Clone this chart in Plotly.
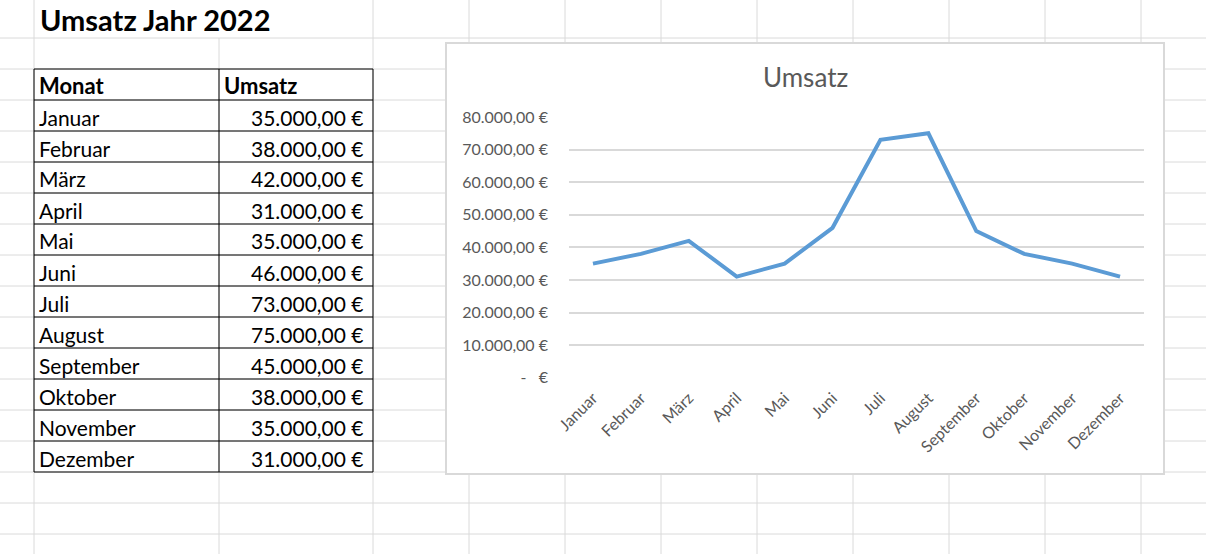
import plotly.graph_objects as go

# ---- data ----
monate = ["Januar", "Februar", "März", "April", "Mai", "Juni", "Juli",
          "August", "September", "Oktober", "November", "Dezember"]
umsatz = [35000, 38000, 42000, 31000, 35000, 46000, 73000,
          75000, 45000, 38000, 35000, 31000]
y_tickvals = [0, 10000, 20000, 30000, 40000, 50000, 60000, 70000, 80000]
y_ticktext = ["-   €", "10.000,00 €", "20.000,00 €", "30.000,00 €", "40.000,00 €",
              "50.000,00 €", "60.000,00 €", "70.000,00 €", "80.000,00 €"]
sheet_title = "Umsatz Jahr 2022"
col_headers = ["Monat", "Umsatz"]
chart_title = "Umsatz"

W, H = 1206, 554
FONT = "Lato"


def px(x):
    return x / W


def py(y):
    return 1 - y / H


def eur(v):
    s = f"{v:,.2f}"
    s = s.replace(",", "X").replace(".", ",").replace("X", ".")
    return s + " €"


shapes = []
grid_col = "#dadada"
# spreadsheet grid: vertical lines
for x in [34, 373, 469, 565, 661, 757, 853, 949, 1045, 1141]:
    shapes.append(dict(type="line", xref="paper", yref="paper", x0=px(x), x1=px(x),
                       y0=py(0), y1=py(H), line=dict(color=grid_col, width=1), layer="below"))
shapes.append(dict(type="line", xref="paper", yref="paper", x0=px(219), x1=px(219),
                   y0=py(38), y1=py(H), line=dict(color=grid_col, width=1), layer="below"))
# horizontal lines
row_y = [38 + 31 * i for i in range(17)]
for y in row_y:
    shapes.append(dict(type="line", xref="paper", yref="paper", x0=0, x1=1,
                       y0=py(y), y1=py(y), line=dict(color=grid_col, width=1), layer="below"))

# table borders
t_top, row_h = 69, 31
n_rows = len(monate) + 1
t_bot = t_top + n_rows * row_h
for i in range(n_rows + 1):
    y = t_top + i * row_h
    shapes.append(dict(type="line", xref="paper", yref="paper", x0=px(34), x1=px(373),
                       y0=py(y), y1=py(y), line=dict(color="black", width=1), layer="below"))
for x in [34, 219, 373]:
    shapes.append(dict(type="line", xref="paper", yref="paper", x0=px(x), x1=px(x),
                       y0=py(t_top), y1=py(t_bot), line=dict(color="black", width=1), layer="below"))

# chart box
shapes.append(dict(type="rect", xref="paper", yref="paper", x0=px(446), x1=px(1164),
                   y0=py(474), y1=py(43), fillcolor="white",
                   line=dict(color="#d9d9d9", width=2), layer="below"))

annotations = []
annotations.append(dict(text=f"<b>{sheet_title}</b>", xref="paper", yref="paper",
                        x=px(38), y=py(19), xanchor="left", yanchor="middle",
                        showarrow=False, font=dict(family=FONT, size=29, color="black")))
for cx, hdr in zip([37, 222], col_headers):
    annotations.append(dict(text=f"<b>{hdr}</b>", xref="paper", yref="paper",
                            x=px(cx), y=py(t_top + row_h / 2 + 1.5), xanchor="left", yanchor="middle",
                            showarrow=False, font=dict(family=FONT, size=22, color="black")))
for i, (m, v) in enumerate(zip(monate, umsatz)):
    yc = t_top + (i + 1) * row_h + row_h / 2 + 1.5
    annotations.append(dict(text=m, xref="paper", yref="paper", x=px(37), y=py(yc),
                            xanchor="left", yanchor="middle", showarrow=False,
                            font=dict(family=FONT, size=21, color="black")))
    annotations.append(dict(text=eur(v), xref="paper", yref="paper", x=px(366), y=py(yc),
                            xanchor="right", yanchor="middle", showarrow=False,
                            font=dict(family=FONT, size=21, color="black")))
annotations.append(dict(text=chart_title, xref="paper", yref="paper", x=px(805), y=py(77),
                        xanchor="center", yanchor="middle", showarrow=False,
                        font=dict(family=FONT, size=26, color="#595959")))

fig = go.Figure()
fig.add_trace(go.Scatter(x=monate, y=umsatz, mode="lines",
                         line=dict(color="#5B9BD5", width=4), hoverinfo="x+y"))

fig.update_layout(
    width=W, height=H,
    margin=dict(l=0, r=0, t=0, b=0, pad=0, autoexpand=False),
    paper_bgcolor="white", plot_bgcolor="white",
    showlegend=False,
    shapes=shapes, annotations=annotations,
    font=dict(family=FONT, color="#595959"),
    xaxis=dict(domain=[px(569), px(1144)], type="category", range=[-0.5, 11.5],
               automargin=False,
               showgrid=False, zeroline=False, showline=False, tickangle=-45,
               tickfont=dict(family=FONT, size=16, color="#595959"),
               ticks="", ticklabelstandoff=7),
    yaxis=dict(domain=[py(377.7), py(117)], range=[0, 80000], automargin=False,
               tickvals=y_tickvals, ticktext=y_ticktext,
               showgrid=True, gridcolor="#d9d9d9", gridwidth=1.5,
               zeroline=False, showline=False,
               tickfont=dict(family=FONT, size=16, color="#595959"),
               ticks="", ticklabelstandoff=20),
)

fig.write_html("out.html", config={"displayModeBar": False},
               post_script="document.body.style.margin='0';document.body.style.overflow='hidden';")
